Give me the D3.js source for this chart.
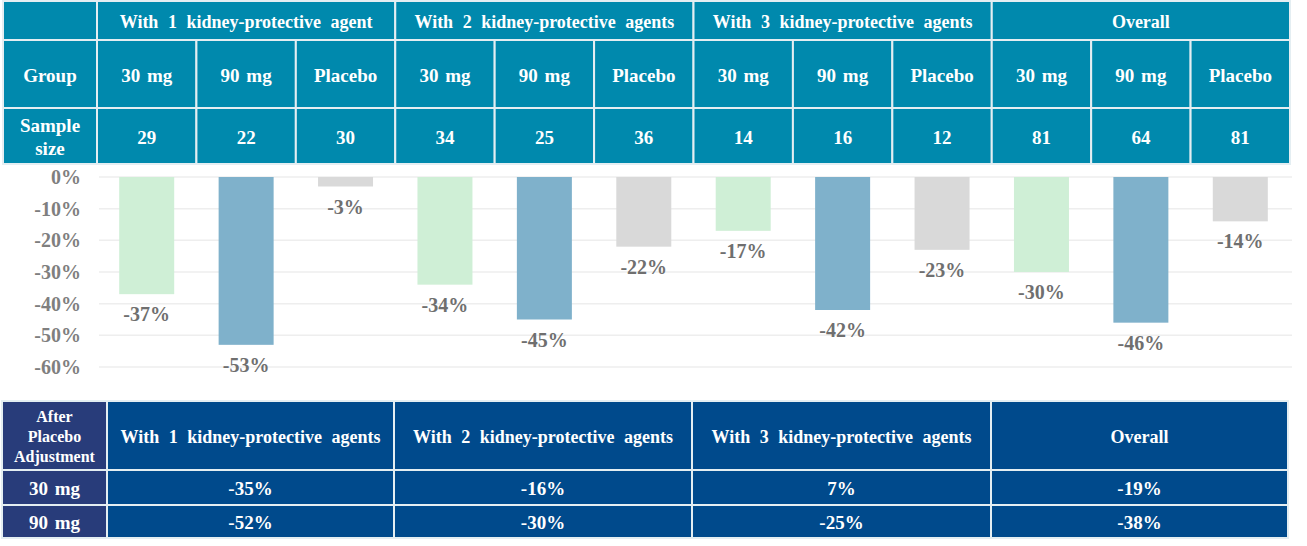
<!DOCTYPE html>
<html>
<head>
<meta charset="utf-8">
<script src="https://cdn.jsdelivr.net/npm/d3@7"></script>
<style>
  body { margin: 0; background: #fff; }
  svg text { font-family: "Liberation Serif", "DejaVu Serif", serif; font-weight: bold; }
</style>
</head>
<body>
<svg id="chart" width="1307" height="546"></svg>
<script>
// data
const groups = ["With 1 kidney-protective agent", "With 2 kidney-protective agents",
  "With 3 kidney-protective agents", "Overall"];
const arms = ["30 mg", "90 mg", "Placebo"];
const sampleSizes = [29, 22, 30, 34, 25, 36, 14, 16, 12, 81, 64, 81];
const changes = [-37, -53, -3, -34, -45, -22, -17, -42, -23, -30, -46, -14];
const yTicks = [0, -10, -20, -30, -40, -50, -60];
const adjGroups = ["With 1 kidney-protective agents", "With 2 kidney-protective agents",
  "With 3 kidney-protective agents", "Overall"];
const adjRows = ["30 mg", "90 mg"];
const adj30 = [-35, -16, 7, -19];
const adj90 = [-52, -30, -25, -38];

const armColors = {"30 mg": "#cfefd6", "90 mg": "#7fb1cb", "Placebo": "#d9d9d9"};
const teal = "#0089ad", navy = "#004a8c", navyDark = "#283c7a", lineCol = "#e4eef2";
const serif = "'Liberation Serif', 'DejaVu Serif', serif";

const svg = d3.select("#chart");

// one column per group/arm pair
const cols = [];
groups.forEach((g, gi) => arms.forEach((a, ai) => cols.push({
  key: gi * 3 + ai, group: g, arm: a, n: sampleSizes[gi * 3 + ai], value: changes[gi * 3 + ai]
})));

const x = d3.scaleBand().domain(cols.map(d => d.key)).range([97, 1290]).padding(0);
const y = d3.scaleLinear().domain([0, -60]).range([177, 367]);

function cell(g, x0, y0, w, h, fill, label, size, lineH, wordSp) {
  g.append("rect")
    .attr("x", x0).attr("y", y0).attr("width", w).attr("height", h)
    .attr("fill", fill).attr("stroke", lineCol).attr("stroke-width", 2);
  if (label == undefined) return;
  const lines = String(label).split("\n");
  const lh = lineH || size * 1.15;
  const t = g.append("text")
    .attr("x", x0 + w / 2)
    .attr("text-anchor", "middle")
    .attr("fill", "#fff")
    .style("font-family", serif)
    .style("font-size", size + "px")
    .style("word-spacing", (wordSp || 1) + "px");
  lines.forEach((l, i) => {
    t.append("tspan")
      .attr("x", x0 + w / 2)
      .attr("y", y0 + h / 2 + 1 + (i - (lines.length - 1) / 2) * lh)
      .attr("dy", "0.35em")
      .text(l);
  });
}

// top table
const topTable = svg.append("g");
const rowY = [1, 40, 108, 164];
cell(topTable, 3, rowY[0], 94, rowY[1] - rowY[0], teal);
cell(topTable, 3, rowY[1], 94, rowY[2] - rowY[1], teal, "Group", 19);
cell(topTable, 3, rowY[2], 94, rowY[3] - rowY[2], teal, "Sample\nsize", 19, 23);
groups.forEach((g, gi) => {
  const x0 = x(gi * 3);
  cell(topTable, x0, rowY[0], x.bandwidth() * 3, rowY[1] - rowY[0], teal, g, 18, null, 5);
});
cols.forEach(d => {
  cell(topTable, x(d.key), rowY[1], x.bandwidth(), rowY[2] - rowY[1], teal, d.arm, 19, null, 2);
  cell(topTable, x(d.key), rowY[2], x.bandwidth(), rowY[3] - rowY[2], teal, d.n, 19);
});

// gridlines and y axis
const plot = svg.append("g");
plot.selectAll("line.grid")
  .data(yTicks)
  .join("line")
  .attr("class", "grid")
  .attr("x1", 99).attr("x2", 1292)
  .attr("y1", d => y(d)).attr("y2", d => y(d))
  .attr("stroke", "#eeeeee").attr("stroke-width", 1.5);

const yAxis = d3.axisLeft(y).tickValues(yTicks).tickSize(0).tickPadding(0)
  .tickFormat(d => d + "%");
plot.append("g")
  .attr("transform", "translate(81,0)")
  .call(yAxis)
  .call(g => g.select(".domain").remove())
  .call(g => g.selectAll("text")
    .attr("fill", "#7f7f7f")
    .style("font-family", serif)
    .style("font-weight", "bold")
    .style("font-size", "20px"));

// bars
const barW = 55;
plot.selectAll("rect.bar")
  .data(cols)
  .join("rect")
  .attr("class", "bar")
  .attr("x", d => x(d.key) + x.bandwidth() / 2 - barW / 2)
  .attr("y", y(0))
  .attr("width", barW)
  .attr("height", d => y(d.value) - y(0))
  .attr("fill", d => armColors[d.arm]);

plot.selectAll("text.val")
  .data(cols)
  .join("text")
  .attr("class", "val")
  .attr("x", d => x(d.key) + x.bandwidth() / 2)
  .attr("y", d => y(d.value) + 20)
  .attr("dy", "0.35em")
  .attr("text-anchor", "middle")
  .attr("fill", "#6f6f6f")
  .style("font-family", serif)
  .style("font-size", "20px")
  .text(d => d.value + "%");

// bottom table: placebo-adjusted change
const bot = svg.append("g");
const bEdges = [2, 107, 394, 692, 991, 1288]; // column edges, first data column is narrower
const bRowY = [401, 470, 505, 538];
const bCol = i => [bEdges[i + 1], bEdges[i + 2] - bEdges[i + 1]];
cell(bot, bEdges[0], bRowY[0], bEdges[1] - bEdges[0], bRowY[1] - bRowY[0], navyDark, "After\nPlacebo\nAdjustment", 16, 20);
adjGroups.forEach((g, i) => {
  const [x0, w] = bCol(i);
  cell(bot, x0, bRowY[0], w, bRowY[1] - bRowY[0], navy, g, 18, null, 5);
});
[adj30, adj90].forEach((vals, r) => {
  cell(bot, bEdges[0], bRowY[r + 1], bEdges[1] - bEdges[0], bRowY[r + 2] - bRowY[r + 1], navyDark, adjRows[r], 19, null, 2);
  vals.forEach((v, i) => {
    const [x0, w] = bCol(i);
    cell(bot, x0, bRowY[r + 1], w, bRowY[r + 2] - bRowY[r + 1], navy, v + "%", 19);
  });
});
</script>
</body>
</html>
